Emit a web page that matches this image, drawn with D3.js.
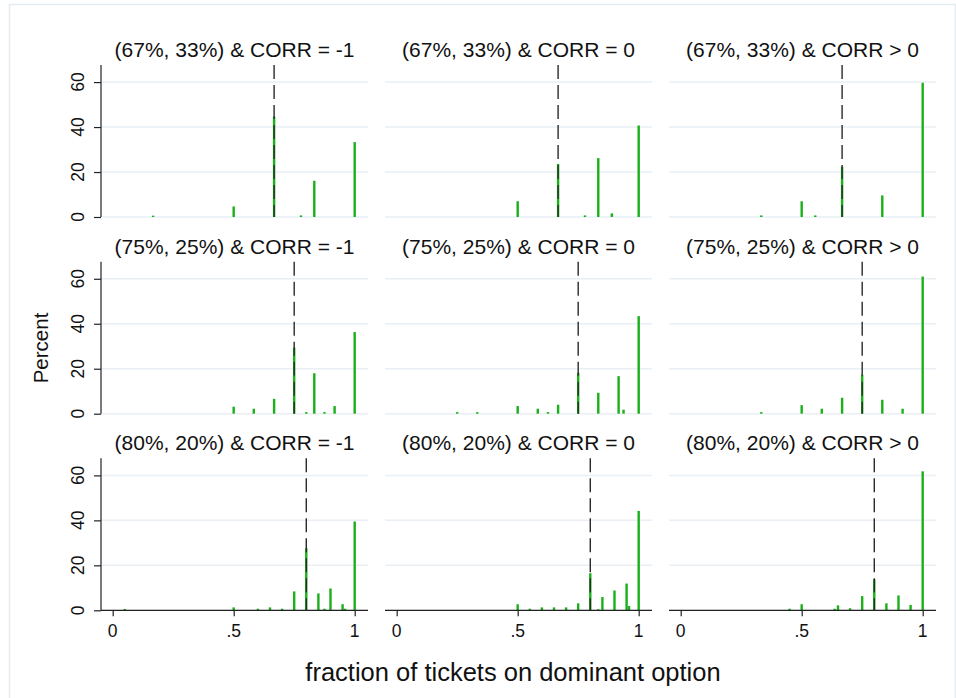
<!DOCTYPE html>
<html>
<head>
<meta charset="utf-8">
<script src="https://cdn.jsdelivr.net/npm/d3@7"></script>
<style>
  html, body { margin: 0; padding: 0; background: #fff; }
  svg { display: block; }
  text { font-family: "Liberation Sans", Arial, Helvetica, sans-serif; fill: #111; }
</style>
</head>
<body>
<svg id="chart" width="956" height="698"></svg>
<script>
// ---------------- data ----------------
const rowLabels = ["(67%, 33%)", "(75%, 25%)", "(80%, 20%)"];
const colLabels = ["CORR = -1", "CORR = 0", "CORR > 0"];
const thresholds = [0.667, 0.75, 0.8];
const yTicks = [0, 20, 40, 60];
const xTicks = [0, 0.5, 1];
const xTickLabels = ["0", ".5", "1"];

// row 1: (67%, 33%)
const r1cNegX = [0.167, 0.5, 0.667, 0.778, 0.833, 1.0];
const r1cNegY = [0.6, 4.7, 44.7, 0.7, 16.1, 33.3];
const r1cZeroX = [0.5, 0.667, 0.778, 0.833, 0.889, 1.0];
const r1cZeroY = [7.0, 23.6, 0.7, 26.2, 1.6, 40.7];
const r1cPosX = [0.333, 0.5, 0.556, 0.667, 0.833, 1.0];
const r1cPosY = [0.7, 7.0, 0.7, 22.4, 9.6, 59.7];

// row 2: (75%, 25%)
const r2cNegX = [0.5, 0.583, 0.667, 0.75, 0.8, 0.833, 0.875, 0.917, 1.0];
const r2cNegY = [3.1, 2.2, 6.6, 29.4, 0.7, 18.0, 0.7, 3.4, 36.3];
const r2cZeroX = [0.25, 0.333, 0.5, 0.583, 0.625, 0.667, 0.75, 0.833, 0.917, 0.9375, 1.0];
const r2cZeroY = [0.7, 0.7, 3.4, 2.2, 0.7, 4.0, 18.2, 9.3, 16.7, 1.8, 43.4];
const r2cPosX = [0.333, 0.5, 0.583, 0.667, 0.75, 0.833, 0.917, 1.0];
const r2cPosY = [0.7, 3.8, 2.2, 7.1, 17.3, 6.2, 2.2, 61.0];

// row 3: (80%, 20%)
const r3cNegX = [0.05, 0.5, 0.6, 0.65, 0.7, 0.75, 0.8, 0.85, 0.875, 0.9, 0.95, 0.96, 1.0];
const r3cNegY = [0.6, 1.3, 0.7, 1.3, 0.7, 8.4, 27.6, 7.5, 0.7, 9.7, 2.7, 0.7, 39.5];
const r3cZeroX = [0.5, 0.55, 0.6, 0.65, 0.7, 0.75, 0.8, 0.833, 0.85, 0.9, 0.95, 0.96, 1.0];
const r3cZeroY = [2.7, 0.7, 1.3, 1.3, 1.3, 3.1, 16.5, 0.5, 5.9, 8.8, 11.9, 1.9, 44.2];
const r3cPosX = [0.45, 0.5, 0.636, 0.65, 0.7, 0.75, 0.8, 0.85, 0.9, 0.95, 1.0];
const r3cPosY = [0.7, 2.7, 0.7, 2.2, 0.9, 6.3, 13.8, 3.1, 6.6, 2.4, 61.8];

const panelX = [[r1cNegX, r1cZeroX, r1cPosX], [r2cNegX, r2cZeroX, r2cPosX], [r3cNegX, r3cZeroX, r3cPosX]];
const panelY = [[r1cNegY, r1cZeroY, r1cPosY], [r2cNegY, r2cZeroY, r2cPosY], [r3cNegY, r3cZeroY, r3cPosY]];

// ---------------- layout ----------------
const colLeft = [101, 385, 669];
const panelW = 267;
const rowTop = [65, 261.7, 458.3];
const panelH = 152;
const xDomain = [-0.0483, 1.055];
const yDomain = [0, 67.6];

const green = "#1ab01a";
const gridCol = "#e9eff4";

const svg = d3.select("#chart");

// outer frame
svg.append("rect")
  .attr("x", 9.5).attr("y", 4.5)
  .attr("width", 946).attr("height", 700)
  .attr("fill", "none").attr("stroke", "#e4ebf1").attr("stroke-width", 1.5);

for (let r = 0; r < 3; r++) {
  for (let c = 0; c < 3; c++) {
    const L = colLeft[c], T = rowTop[r];
    const x = d3.scaleLinear().domain(xDomain).range([L, L + panelW]);
    const y = d3.scaleLinear().domain(yDomain).range([T + panelH, T]);
    const g = svg.append("g");

    // gridlines
    g.selectAll("line.grid").data(yTicks).enter().append("line")
      .attr("x1", L).attr("x2", L + panelW)
      .attr("y1", d => y(d)).attr("y2", d => y(d))
      .attr("stroke", gridCol).attr("stroke-width", 1.5);

    // title
    g.append("text")
      .attr("x", L + panelW / 2).attr("y", T - 8)
      .attr("text-anchor", "middle")
      .style("font-size", "21px")
      .text(rowLabels[r] + " & " + colLabels[c]);

    // bars
    const xs = panelX[r][c], ys = panelY[r][c];
    g.selectAll("rect.bar").data(xs.map((v, i) => ({ x: v, y: ys[i] }))).enter().append("rect")
      .attr("x", d => x(d.x) - 1.2)
      .attr("width", 2.4)
      .attr("y", d => y(d.y))
      .attr("height", d => y(0) - y(d.y))
      .attr("fill", green);

    // dashed threshold line
    g.append("line")
      .attr("x1", x(thresholds[r])).attr("x2", x(thresholds[r]))
      .attr("y1", y(yDomain[1])).attr("y2", y(0))
      .attr("stroke", "#2a2a2a").attr("stroke-width", 1.4)
      .attr("stroke-dasharray", "14,6");

    // y axis (first column only)
    if (c === 0) {
      const ax = g.append("g").attr("transform", `translate(${L},0)`)
        .call(d3.axisLeft(y).tickValues(yTicks).tickSize(7).tickFormat(""));
      ax.select(".domain").attr("stroke", "#222").attr("stroke-width", 1.2)
        .attr("d", `M0,${y(yDomain[1])}V${y(0)}`);
      ax.selectAll(".tick line").attr("stroke", "#222").attr("stroke-width", 1.2);
      g.selectAll("text.ylab").data(yTicks).enter().append("text")
        .attr("transform", d => `translate(${L - 17},${y(d)}) rotate(-90)`)
        .attr("text-anchor", "middle")
        .style("font-size", "17.5px")
        .text(d => d);
    }

    // x axis (last row only)
    if (r === 2) {
      const ax = g.append("g").attr("transform", `translate(0,${y(0)})`)
        .call(d3.axisBottom(x).tickValues(xTicks).tickSize(6).tickFormat(""));
      ax.select(".domain").attr("stroke", "#222").attr("stroke-width", 1.2)
        .attr("d", `M${L},0H${L + panelW}`);
      ax.selectAll(".tick line").attr("stroke", "#222").attr("stroke-width", 1.2);
      g.selectAll("text.xlab").data(xTicks).enter().append("text")
        .attr("x", d => x(d)).attr("y", y(0) + 27)
        .attr("text-anchor", "middle")
        .style("font-size", "17.5px")
        .text((d, i) => xTickLabels[i]);
    }
  }
}

// axis titles
svg.append("text")
  .attr("transform", "translate(48,348) rotate(-90)")
  .attr("text-anchor", "middle")
  .style("font-size", "20.5px")
  .text("Percent");

svg.append("text")
  .attr("x", 513).attr("y", 681)
  .attr("text-anchor", "middle")
  .style("font-size", "25.5px")
  .text("fraction of tickets on dominant option");
</script>
</body>
</html>
